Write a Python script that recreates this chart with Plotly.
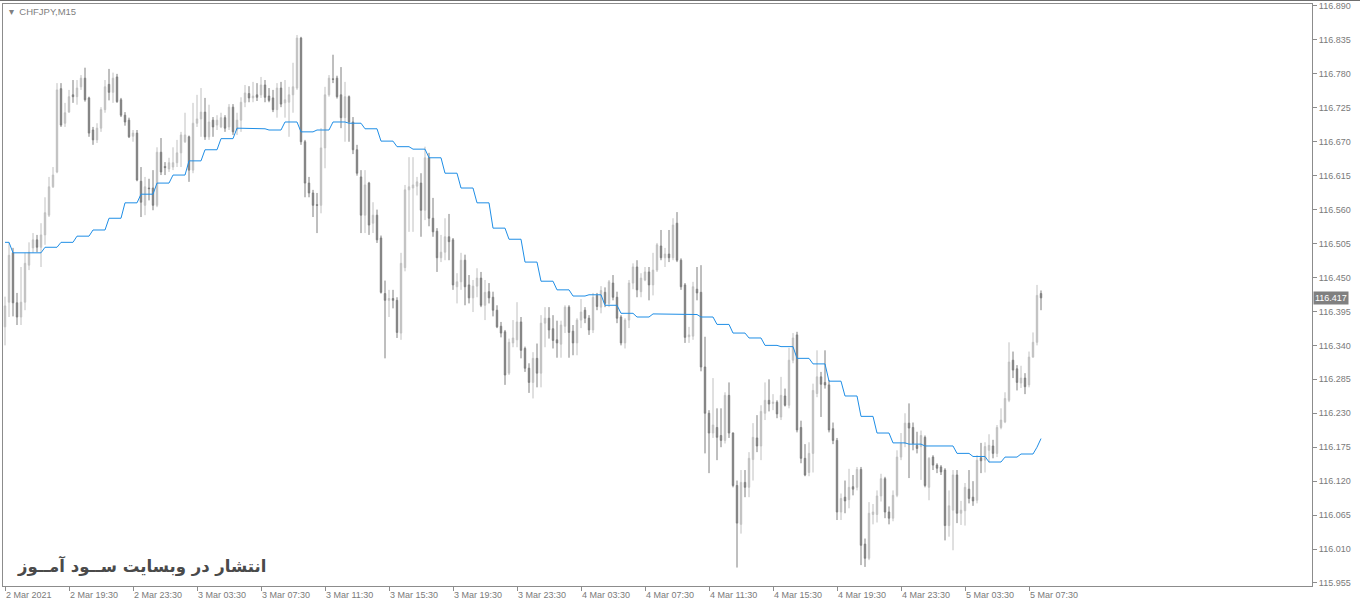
import pandas as pd
import plotly.graph_objects as go

# ---------------- data (CHFJPY, M15) ----------------
opens = [
    116.370, 116.410, 116.490, 116.409, 116.386, 116.410, 116.470, 116.498, 116.511, 116.499,
    116.519, 116.551, 116.597, 116.621, 116.756, 116.700, 116.718, 116.746, 116.743, 116.759,
    116.773, 116.741, 116.689, 116.673, 116.692, 116.722, 116.763, 116.750, 116.775, 116.738,
    116.713, 116.705, 116.679, 116.684, 116.606, 116.567, 116.595, 116.595, 116.567, 116.653,
    116.630, 116.626, 116.629, 116.636, 116.652, 116.670, 116.678, 116.624, 116.700, 116.707,
    116.718, 116.678, 116.705, 116.697, 116.694, 116.709, 116.694, 116.726, 116.689, 116.705,
    116.734, 116.748, 116.741, 116.746, 116.746, 116.762, 116.744, 116.741, 116.722, 116.757,
    116.733, 116.734, 116.746, 116.757, 116.838, 116.670, 116.603, 116.587, 116.568, 116.567,
    116.660, 116.746, 116.772, 116.773, 116.746, 116.709, 116.743, 116.702, 116.657, 116.613,
    116.551, 116.603, 116.538, 116.551, 116.514, 116.424, 116.413, 116.416, 116.413, 116.360,
    116.466, 116.592, 116.595, 116.598, 116.603, 116.559, 116.644, 116.546, 116.525, 116.482,
    116.491, 116.516, 116.511, 116.435, 116.443, 116.478, 116.438, 116.417, 116.436, 116.449,
    116.405, 116.427, 116.418, 116.397, 116.371, 116.362, 116.295, 116.344, 116.349, 116.378,
    116.335, 116.303, 116.280, 116.319, 116.295, 116.376, 116.384, 116.367, 116.349, 116.342,
    116.371, 116.402, 116.363, 116.344, 116.381, 116.397, 116.384, 116.365, 116.421, 116.402,
    116.426, 116.408, 116.441, 116.418, 116.386, 116.344, 116.381, 116.441, 116.467, 116.427,
    116.446, 116.459, 116.438, 116.462, 116.501, 116.482, 116.488, 116.482, 116.538, 116.478,
    116.438, 116.354, 116.355, 116.431, 116.426, 116.305, 116.230, 116.198, 116.207, 116.194,
    116.186, 116.259, 116.198, 116.113, 116.050, 116.118, 116.110, 116.155, 116.190, 116.177,
    116.230, 116.251, 116.246, 116.248, 116.224, 116.258, 116.243, 116.316, 116.357, 116.207,
    116.157, 116.134, 116.165, 116.262, 116.289, 116.280, 116.276, 116.205, 116.186, 116.070,
    116.094, 116.090, 116.111, 116.110, 116.139, 116.018, 115.995, 116.066, 116.066, 116.096,
    116.124, 116.070, 116.060, 116.097, 116.159, 116.181, 116.214, 116.207, 116.178, 116.176,
    116.191, 116.110, 116.159, 116.146, 116.143, 116.138, 116.048, 116.073, 116.130, 116.068,
    116.072, 116.107, 116.094, 116.089, 116.158, 116.154, 116.170, 116.177, 116.165, 116.207,
    116.216, 116.251, 116.316, 116.302, 116.279, 116.287, 116.276, 116.321, 116.345, 116.424,
]
highs = [
    116.419, 116.507, 116.498, 116.425, 116.467, 116.490, 116.507, 116.522, 116.519, 116.538,
    116.580, 116.613, 116.629, 116.765, 116.765, 116.733, 116.754, 116.770, 116.770, 116.778,
    116.790, 116.743, 116.694, 116.700, 116.726, 116.770, 116.788, 116.782, 116.780, 116.741,
    116.718, 116.709, 116.689, 116.689, 116.629, 116.613, 116.610, 116.624, 116.661, 116.676,
    116.637, 116.644, 116.661, 116.673, 116.686, 116.717, 116.680, 116.733, 116.746, 116.757,
    116.741, 116.730, 116.710, 116.713, 116.717, 116.713, 116.731, 116.731, 116.717, 116.742,
    116.762, 116.760, 116.767, 116.765, 116.775, 116.770, 116.757, 116.754, 116.765, 116.767,
    116.770, 116.759, 116.798, 116.843, 116.840, 116.673, 116.613, 116.592, 116.587, 116.692,
    116.759, 116.778, 116.811, 116.777, 116.791, 116.767, 116.745, 116.710, 116.665, 116.624,
    116.624, 116.605, 116.572, 116.560, 116.518, 116.445, 116.430, 116.430, 116.418, 116.490,
    116.600, 116.645, 116.645, 116.613, 116.619, 116.662, 116.652, 116.579, 116.530, 116.519,
    116.546, 116.553, 116.514, 116.457, 116.490, 116.487, 116.454, 116.446, 116.465, 116.459,
    116.446, 116.441, 116.427, 116.405, 116.378, 116.365, 116.351, 116.381, 116.410, 116.386,
    116.338, 116.311, 116.329, 116.343, 116.389, 116.402, 116.402, 116.389, 116.380, 116.380,
    116.405, 116.405, 116.373, 116.384, 116.415, 116.402, 116.389, 116.425, 116.425, 116.436,
    116.434, 116.446, 116.454, 116.427, 116.389, 116.384, 116.446, 116.473, 116.478, 116.457,
    116.467, 116.467, 116.490, 116.506, 116.527, 116.498, 116.527, 116.546, 116.556, 116.481,
    116.441, 116.370, 116.443, 116.467, 116.470, 116.354, 116.235, 116.287, 116.238, 116.238,
    116.264, 116.280, 116.199, 116.121, 116.138, 116.138, 116.167, 116.214, 116.227, 116.243,
    116.280, 116.285, 116.261, 116.251, 116.289, 116.270, 116.336, 116.360, 116.362, 116.218,
    116.180, 116.183, 116.278, 116.332, 116.297, 116.332, 116.284, 116.215, 116.190, 116.100,
    116.121, 116.140, 116.130, 116.143, 116.143, 116.027, 116.086, 116.083, 116.105, 116.132,
    116.127, 116.079, 116.105, 116.170, 116.198, 116.230, 116.246, 116.215, 116.200, 116.202,
    116.194, 116.159, 116.162, 116.149, 116.146, 116.141, 116.105, 116.138, 116.138, 116.088,
    116.117, 116.138, 116.120, 116.162, 116.182, 116.183, 116.196, 116.187, 116.211, 116.238,
    116.264, 116.345, 116.330, 116.308, 116.307, 116.295, 116.330, 116.361, 116.438, 116.429,
]
lows = [
    116.340, 116.386, 116.387, 116.373, 116.373, 116.397, 116.462, 116.490, 116.491, 116.467,
    116.503, 116.548, 116.595, 116.619, 116.694, 116.694, 116.717, 116.733, 116.730, 116.754,
    116.735, 116.678, 116.665, 116.668, 116.686, 116.717, 116.737, 116.733, 116.733, 116.710,
    116.696, 116.676, 116.670, 116.606, 116.548, 116.551, 116.575, 116.559, 116.564, 116.616,
    116.616, 116.621, 116.624, 116.629, 116.629, 116.668, 116.605, 116.619, 116.694, 116.678,
    116.673, 116.673, 116.678, 116.689, 116.692, 116.686, 116.689, 116.681, 116.681, 116.686,
    116.726, 116.734, 116.734, 116.736, 116.741, 116.734, 116.734, 116.718, 116.709, 116.726,
    116.709, 116.678, 116.717, 116.754, 116.665, 116.580, 116.580, 116.548, 116.522, 116.554,
    116.627, 116.743, 116.765, 116.740, 116.692, 116.670, 116.670, 116.650, 116.615, 116.522,
    116.522, 116.519, 116.522, 116.506, 116.424, 116.319, 116.386, 116.400, 116.352, 116.349,
    116.460, 116.524, 116.524, 116.583, 116.516, 116.543, 116.533, 116.516, 116.459, 116.475,
    116.478, 116.478, 116.430, 116.408, 116.430, 116.405, 116.408, 116.394, 116.418, 116.402,
    116.381, 116.408, 116.387, 116.368, 116.353, 116.276, 116.292, 116.337, 116.337, 116.319,
    116.297, 116.263, 116.254, 116.272, 116.272, 116.337, 116.351, 116.335, 116.320, 116.320,
    116.360, 116.320, 116.324, 116.324, 116.368, 116.376, 116.357, 116.360, 116.397, 116.392,
    116.402, 116.402, 116.413, 116.376, 116.340, 116.335, 116.368, 116.431, 116.418, 116.418,
    116.444, 116.413, 116.421, 116.459, 116.478, 116.467, 116.475, 116.478, 116.475, 116.430,
    116.344, 116.344, 116.349, 116.413, 116.298, 116.165, 116.133, 116.190, 116.154, 116.175,
    116.181, 116.190, 116.110, 115.980, 116.035, 116.094, 116.094, 116.121, 116.167, 116.154,
    116.219, 116.233, 116.235, 116.222, 116.219, 116.241, 116.238, 116.311, 116.199, 116.149,
    116.128, 116.128, 116.134, 116.256, 116.224, 116.270, 116.199, 116.180, 116.057, 116.057,
    116.068, 116.076, 116.097, 116.105, 115.984, 115.981, 115.992, 116.050, 116.053, 116.087,
    116.060, 116.050, 116.055, 116.094, 116.154, 116.175, 116.125, 116.170, 116.165, 116.122,
    116.110, 116.089, 116.138, 116.133, 116.130, 116.024, 116.030, 116.008, 116.052, 116.049,
    116.048, 116.084, 116.080, 116.084, 116.133, 116.134, 116.150, 116.157, 116.159, 116.204,
    116.214, 116.248, 116.287, 116.267, 116.271, 116.261, 116.272, 116.320, 116.340, 116.397,
]
closes = [
    116.404, 116.486, 116.409, 116.386, 116.410, 116.473, 116.491, 116.511, 116.499, 116.519,
    116.555, 116.597, 116.616, 116.754, 116.697, 116.717, 116.743, 116.743, 116.757, 116.773,
    116.738, 116.684, 116.673, 116.692, 116.722, 116.759, 116.750, 116.773, 116.735, 116.713,
    116.702, 116.678, 116.684, 116.608, 116.572, 116.597, 116.594, 116.567, 116.653, 116.621,
    116.628, 116.636, 116.636, 116.652, 116.681, 116.681, 116.624, 116.700, 116.707, 116.718,
    116.678, 116.702, 116.694, 116.705, 116.709, 116.692, 116.726, 116.686, 116.705, 116.734,
    116.749, 116.741, 116.744, 116.742, 116.762, 116.742, 116.737, 116.722, 116.757, 116.731,
    116.738, 116.746, 116.759, 116.838, 116.670, 116.603, 116.587, 116.567, 116.567, 116.660,
    116.746, 116.773, 116.771, 116.743, 116.709, 116.743, 116.702, 116.657, 116.619, 116.551,
    116.600, 116.535, 116.551, 116.511, 116.426, 116.413, 116.416, 116.413, 116.361, 116.473,
    116.592, 116.597, 116.600, 116.605, 116.559, 116.644, 116.546, 116.524, 116.482, 116.491,
    116.516, 116.508, 116.438, 116.443, 116.478, 116.435, 116.417, 116.436, 116.449, 116.405,
    116.426, 116.417, 116.397, 116.370, 116.360, 116.292, 116.345, 116.352, 116.378, 116.332,
    116.303, 116.280, 116.319, 116.295, 116.376, 116.384, 116.365, 116.348, 116.344, 116.373,
    116.402, 116.361, 116.344, 116.381, 116.394, 116.384, 116.365, 116.418, 116.403, 116.429,
    116.408, 116.443, 116.418, 116.384, 116.344, 116.381, 116.441, 116.467, 116.430, 116.449,
    116.459, 116.438, 116.462, 116.503, 116.482, 116.488, 116.482, 116.535, 116.478, 116.435,
    116.353, 116.357, 116.435, 116.425, 116.305, 116.230, 116.198, 116.211, 116.191, 116.186,
    116.259, 116.198, 116.113, 116.052, 116.118, 116.110, 116.157, 116.191, 116.177, 116.233,
    116.251, 116.245, 116.248, 116.229, 116.259, 116.243, 116.316, 116.352, 116.203, 116.157,
    116.130, 116.165, 116.267, 116.289, 116.277, 116.276, 116.203, 116.186, 116.070, 116.092,
    116.088, 116.110, 116.107, 116.139, 116.016, 115.995, 116.068, 116.070, 116.096, 116.124,
    116.070, 116.060, 116.097, 116.159, 116.181, 116.214, 116.206, 116.181, 116.173, 116.194,
    116.113, 116.157, 116.146, 116.141, 116.135, 116.048, 116.080, 116.130, 116.068, 116.073,
    116.110, 116.092, 116.088, 116.154, 116.153, 116.176, 116.178, 116.165, 116.207, 116.219,
    116.254, 116.313, 116.300, 116.280, 116.287, 116.273, 116.321, 116.345, 116.421, 116.417,
]
# indicator line (higher-timeframe average, one value per M15 bar)
ma_line = [
    116.507, 116.507,
    116.490, 116.490, 116.490, 116.490,
    116.490, 116.490, 116.490, 116.490,
    116.499, 116.499, 116.499, 116.499,
    116.507, 116.507, 116.507, 116.507,
    116.517, 116.517, 116.517, 116.517,
    116.527, 116.527, 116.527, 116.527,
    116.546, 116.546, 116.546, 116.546,
    116.571, 116.571, 116.571, 116.571,
    116.585, 116.585, 116.585, 116.585,
    116.603, 116.603, 116.603, 116.603,
    116.616, 116.616, 116.616, 116.616,
    116.639, 116.639, 116.639, 116.639,
    116.657, 116.657, 116.657, 116.657,
    116.675, 116.675, 116.675, 116.675,
    116.692, 116.692, 116.692, 116.692,
    116.691, 116.691, 116.691, 116.691,
    116.689, 116.689, 116.689, 116.689,
    116.702, 116.702, 116.702, 116.702,
    116.686, 116.686, 116.686, 116.686,
    116.689, 116.689, 116.689, 116.689,
    116.702, 116.702, 116.702, 116.702,
    116.700, 116.700, 116.700, 116.700,
    116.691, 116.691, 116.691, 116.691,
    116.671, 116.671, 116.671, 116.671,
    116.662, 116.662, 116.662, 116.662,
    116.658, 116.658, 116.658, 116.658,
    116.644, 116.644, 116.644, 116.644,
    116.619, 116.619, 116.619, 116.619,
    116.595, 116.595, 116.595, 116.595,
    116.571, 116.571, 116.571, 116.571,
    116.530, 116.530, 116.530, 116.530,
    116.512, 116.512, 116.512, 116.512,
    116.475, 116.475, 116.475, 116.475,
    116.444, 116.444, 116.444, 116.444,
    116.430, 116.430, 116.430, 116.430,
    116.420, 116.420, 116.420, 116.420,
    116.422, 116.422, 116.422, 116.422,
    116.405, 116.405, 116.405, 116.405,
    116.392, 116.392, 116.392, 116.392,
    116.386, 116.386, 116.386, 116.386,
    116.391, 116.391, 116.391, 116.391,
    116.391, 116.391, 116.391, 116.391,
    116.390, 116.390, 116.390, 116.390,
    116.386, 116.386, 116.386, 116.386,
    116.374, 116.374, 116.374, 116.374,
    116.360, 116.360, 116.360, 116.360,
    116.352, 116.352, 116.352, 116.352,
    116.340, 116.340, 116.340, 116.340,
    116.338, 116.338, 116.338, 116.338,
    116.319, 116.319, 116.319, 116.319,
    116.310, 116.310, 116.310, 116.310,
    116.282, 116.282, 116.282, 116.282,
    116.258, 116.258, 116.258, 116.258,
    116.225, 116.225, 116.225, 116.225,
    116.198, 116.198, 116.198, 116.198,
    116.182, 116.182, 116.182, 116.182,
    116.180, 116.180, 116.180, 116.180,
    116.177, 116.177, 116.177, 116.177,
    116.177, 116.177, 116.177, 116.177,
    116.165, 116.165, 116.165, 116.165,
    116.160, 116.160, 116.160, 116.160,
    116.151, 116.151, 116.151, 116.151,
    116.159, 116.159, 116.159, 116.159,
    116.164, 116.164, 116.164, 116.164,
    116.175, 116.189,
]

first_bar_time = "2021-03-02 15:30"
x_tick_times = [
    "2021-03-02 15:30", "2021-03-02 19:30", "2021-03-02 23:30", "2021-03-03 03:30",
    "2021-03-03 07:30", "2021-03-03 11:30", "2021-03-03 15:30", "2021-03-03 19:30",
    "2021-03-03 23:30", "2021-03-04 03:30", "2021-03-04 07:30", "2021-03-04 11:30",
    "2021-03-04 15:30", "2021-03-04 19:30", "2021-03-04 23:30", "2021-03-05 03:30",
    "2021-03-05 07:30",
]
x_tick_labels = [
    "2 Mar 2021", "2 Mar 19:30", "2 Mar 23:30", "3 Mar 03:30", "3 Mar 07:30",
    "3 Mar 11:30", "3 Mar 15:30", "3 Mar 19:30", "3 Mar 23:30", "4 Mar 03:30",
    "4 Mar 07:30", "4 Mar 11:30", "4 Mar 15:30", "4 Mar 19:30", "4 Mar 23:30",
    "5 Mar 03:30", "5 Mar 07:30",
]
y_tick_labels = [
    "116.890", "116.835", "116.780", "116.725", "116.670", "116.615", "116.560",
    "116.505", "116.450", "116.395", "116.340", "116.285", "116.230", "116.175",
    "116.120", "116.065", "116.010", "115.955",
]
last_price = 116.417
symbol_label = "CHFJPY,M15"
watermark = "انتشار در وبسایت ســود آمــوز"

# ---------------- figure ----------------
times = pd.date_range(first_bar_time, periods=len(opens), freq="15min")
bar = pd.Timedelta(minutes=15)

BULL = "#c0c0c0"
BEAR = "#7f7f7f"
AXIS_TXT = "#7a7a7a"
FRAME = "#8c8c8c"
FONT = "Liberation Sans, Arial, sans-serif"

fig = go.Figure()
fig.add_trace(go.Candlestick(
    x=times, open=opens, high=highs, low=lows, close=closes,
    increasing=dict(line=dict(color=BULL, width=1), fillcolor=BULL),
    decreasing=dict(line=dict(color=BEAR, width=1), fillcolor=BEAR),
    whiskerwidth=0, hoverinfo="skip", showlegend=False,
))
fig.add_trace(go.Scatter(
    x=times, y=ma_line, mode="lines",
    line=dict(color="#1f8ee6", width=1), hoverinfo="skip", showlegend=False,
))

W, H = 1360, 603
ml, mr, mt, mb = 3, 48, 4, 17
pw, ph = W - ml - mr, H - mt - mb

fig.update_layout(
    width=W, height=H,
    margin=dict(l=ml, r=mr, t=mt, b=mb, pad=0, autoexpand=False),
    paper_bgcolor="white", plot_bgcolor="white",
    boxgap=0.5,
    showlegend=False,
    hovermode=False,
    font=dict(family=FONT, size=9, color=AXIS_TXT),
)
fig.update_xaxes(
    type="date",
    range=[times[0] - bar * 0.5, times[0] + bar * 326.75],
    rangeslider=dict(visible=False),
    showgrid=False, zeroline=False,
    showline=True, linecolor=FRAME, linewidth=1, mirror=True,
    tickmode="array", tickvals=pd.to_datetime(x_tick_times), ticktext=x_tick_labels,
    ticks="outside", ticklen=4, tickcolor=FRAME, tickwidth=1,
    ticklabelposition="outside right",
    tickfont=dict(size=9, color=AXIS_TXT, family=FONT),
)
fig.update_yaxes(
    side="right",
    range=[115.9501, 116.8932],
    showgrid=False, zeroline=False,
    showline=True, linecolor=FRAME, linewidth=1, mirror=True,
    tickmode="array", tickvals=[float(s) for s in y_tick_labels], ticktext=y_tick_labels,
    ticks="outside", ticklen=4, tickcolor=FRAME, tickwidth=1,
    tickfont=dict(size=9, color=AXIS_TXT, family=FONT),
)

# outer window top border
fig.add_shape(type="line", xref="paper", yref="paper",
              x0=-ml / pw, x1=(W - ml) / pw, y0=1 + (mt - 0.5) / ph, y1=1 + (mt - 0.5) / ph,
              line=dict(color="#6e6e6e", width=1))

# symbol label
fig.add_annotation(xref="paper", yref="paper", x=4 / pw, y=1 - 8 / ph,
                   xanchor="left", yanchor="middle", showarrow=False,
                   text="\u25BE  " + symbol_label,
                   font=dict(size=9.5, color="#808080", family=FONT))

# current price tag
fig.add_annotation(xref="paper", yref="y", x=1, y=last_price, xshift=1,
                   xanchor="left", yanchor="middle", showarrow=False,
                   text=f"{last_price:.3f}", bgcolor="#808080", borderpad=1,
                   font=dict(size=9, color="white", family=FONT))

# watermark
fig.add_annotation(xref="paper", yref="paper", x=12 / pw, y=20 / ph,
                   xanchor="left", yanchor="middle", showarrow=False,
                   text="<b>" + watermark + "</b>",
                   font=dict(size=16.5, color="#4a4a4a", family="DejaVu Sans, sans-serif"))

fig.write_html(
    "out.html",
    config={"displayModeBar": False, "staticPlot": True},
    post_script="document.body.style.margin='0';document.body.style.overflow='hidden';",
)
